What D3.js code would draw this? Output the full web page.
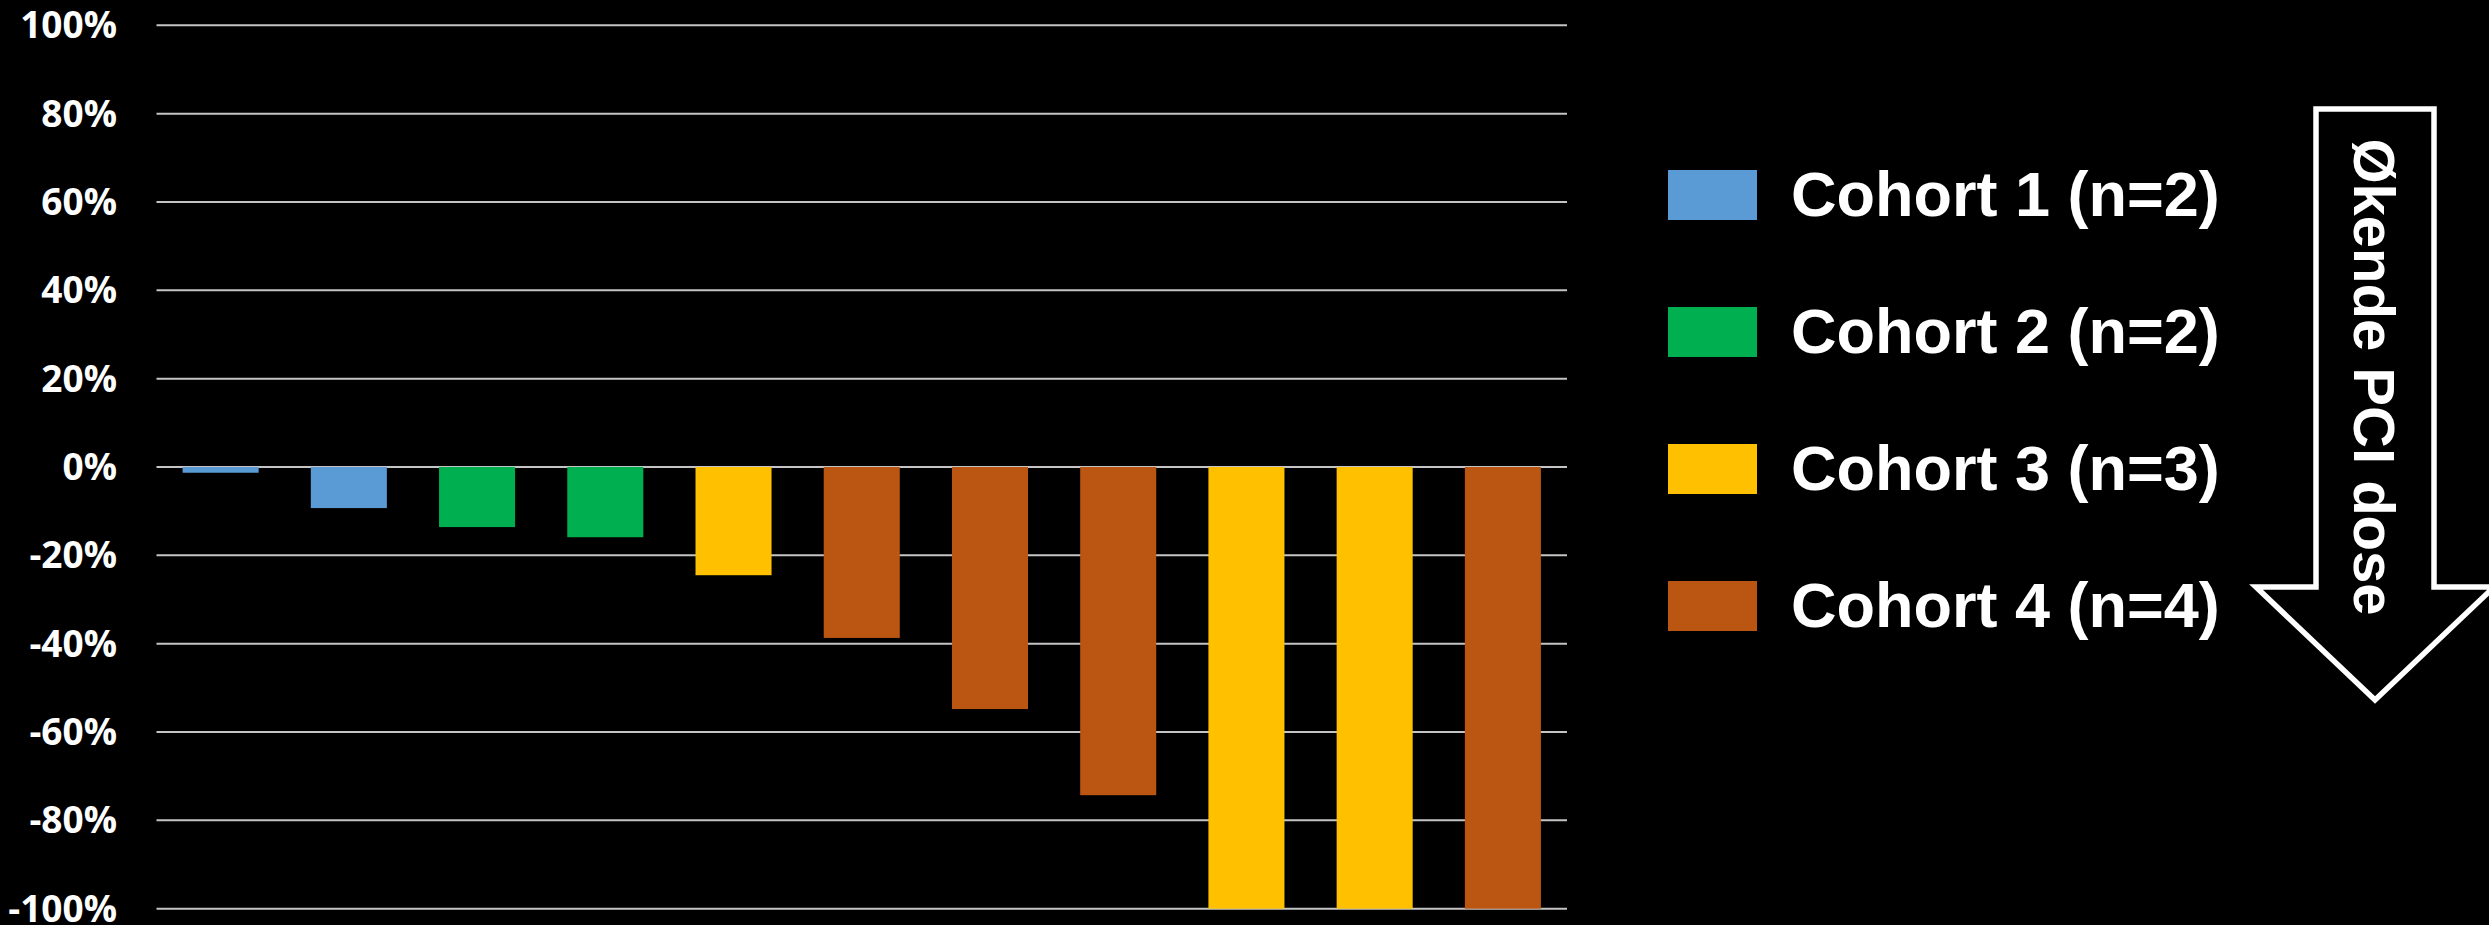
<!DOCTYPE html>
<html>
<head>
<meta charset="utf-8">
<script src="https://cdn.jsdelivr.net/npm/d3@7"></script>
<style>
  html, body { margin: 0; padding: 0; background: #000; }
  svg { display: block; }
</style>
</head>
<body>
<div id="chart"></div>
<script>
// ---- data ----
const patients = ["P1","P2","P3","P4","P5","P6","P7","P8","P9","P10","P11"];
const changes = [-1.3, -9.3, -13.6, -15.9, -24.5, -38.7, -54.8, -74.3, -100, -100, -100];
const patientCohort = [1, 1, 2, 2, 3, 4, 4, 4, 3, 3, 4];
const cohortIds = [1, 2, 3, 4];
const cohortLabels = ["Cohort 1 (n=2)", "Cohort 2 (n=2)", "Cohort 3 (n=3)", "Cohort 4 (n=4)"];
const cohortColors = ["#5B9BD5", "#00AF50", "#FFC000", "#BA5612"];
const yTicks = [100, 80, 60, 40, 20, 0, -20, -40, -60, -80, -100];
const arrowLabel = "Økende PCI dose";

// ---- layout ----
const W = 2489, H = 925;
const svg = d3.select("#chart").append("svg")
  .attr("width", W).attr("height", H)
  .style("background", "#000");

const x = d3.scaleBand()
  .domain(patients)
  .range([156.5, 1567])
  .paddingInner(0.407)
  .paddingOuter(0.2035);

const y = d3.scaleLinear()
  .domain([-100, 100])
  .range([908.7, 25.3]);

const color = d3.scaleOrdinal().domain(cohortIds).range(cohortColors);

// gridlines
svg.append("g").selectAll("line")
  .data(yTicks).join("line")
  .attr("x1", 156.5).attr("x2", 1567)
  .attr("y1", d => y(d)).attr("y2", d => y(d))
  .attr("stroke", "#c4c4c4").attr("stroke-width", 2);

// y axis labels
const yAxis = d3.axisLeft(y)
  .tickValues(yTicks)
  .tickFormat(d => d + "%")
  .tickSize(0)
  .tickPadding(0);
const gy = svg.append("g").attr("transform", "translate(117,0)").call(yAxis);
gy.select(".domain").remove();
gy.selectAll("text")
  .attr("fill", "#fff")
  .attr("dy", "0.34em")
  .style("font-family", "'Open Sans', Lato, sans-serif")
  .style("font-weight", "700")
  .style("font-size", "37px");

// bars
svg.append("g").selectAll("rect")
  .data(patients.map((p, i) => ({ p, v: changes[i], c: patientCohort[i] })))
  .join("rect")
  .attr("x", d => x(d.p))
  .attr("width", x.bandwidth())
  .attr("y", d => Math.min(y(0), y(d.v)))
  .attr("height", d => Math.abs(y(d.v) - y(0)))
  .attr("fill", d => color(d.c));

// legend
const lg = svg.append("g");
const items = lg.selectAll("g").data(cohortIds).join("g")
  .attr("transform", (d, i) => `translate(1668, ${195 + i * 137})`);
items.append("rect")
  .attr("x", 0).attr("y", -25).attr("width", 89).attr("height", 50)
  .attr("fill", d => color(d));
items.append("text")
  .attr("x", 123).attr("y", 21)
  .attr("fill", "#fff")
  .style("font-family", "'Liberation Sans', Arial, sans-serif")
  .style("font-weight", "700")
  .style("font-size", "63px")
  .text((d, i) => cohortLabels[i]);

// arrow
const cx = 2375;
const arrowPath = d3.path();
arrowPath.moveTo(2316, 109);
arrowPath.lineTo(2434, 109);
arrowPath.lineTo(2434, 587);
arrowPath.lineTo(2494, 587);
arrowPath.lineTo(cx, 700);
arrowPath.lineTo(2256, 587);
arrowPath.lineTo(2316, 587);
arrowPath.closePath();
svg.append("path")
  .attr("d", arrowPath.toString())
  .attr("fill", "#000")
  .attr("stroke", "#fff")
  .attr("stroke-width", 5.5)
  .attr("stroke-linejoin", "miter");

svg.append("text")
  .attr("transform", `translate(2354, 377) rotate(90)`)
  .attr("text-anchor", "middle")
  .attr("fill", "#fff")
  .style("font-family", "'Liberation Sans', Arial, sans-serif")
  .style("font-weight", "700")
  .style("font-size", "58px")
  .text(arrowLabel);
</script>
</body>
</html>
